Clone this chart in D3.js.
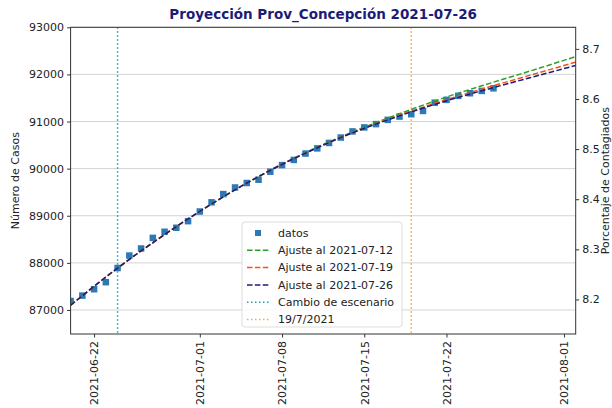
<!DOCTYPE html>
<html>
<head>
<meta charset="utf-8">
<script src="https://cdn.jsdelivr.net/npm/d3@7"></script>
<style>
    body { margin: 0; background: #fff; }
    text { font-family: "DejaVu Sans", sans-serif; fill: #222; }
</style>
</head>
<body>
<svg id="chart" width="612" height="408"></svg>
<script>
// Observed cases (daily)
const dataDates = [
    "2021-06-20", "2021-06-21", "2021-06-22", "2021-06-23", "2021-06-24", "2021-06-25",
    "2021-06-26", "2021-06-27", "2021-06-28", "2021-06-29", "2021-06-30", "2021-07-01",
    "2021-07-02", "2021-07-03", "2021-07-04", "2021-07-05", "2021-07-06", "2021-07-07",
    "2021-07-08", "2021-07-09", "2021-07-10", "2021-07-11", "2021-07-12", "2021-07-13",
    "2021-07-14", "2021-07-15", "2021-07-16", "2021-07-17", "2021-07-18", "2021-07-19",
    "2021-07-20", "2021-07-21", "2021-07-22", "2021-07-23", "2021-07-24", "2021-07-25",
    "2021-07-26"
]
const dataCases = [
    87190, 87305, 87440, 87590, 87890, 88155,
    88305, 88530, 88660, 88745, 88885, 89090,
    89285, 89460, 89600, 89695, 89765, 89935,
    90075, 90185, 90320, 90430, 90545, 90660,
    90790, 90875, 90945, 91035, 91105, 91155,
    91225, 91400, 91460, 91545, 91600, 91650,
    91705
]

// Fitted curves, read every 4 days
const fitDates = [
    "2021-06-20", "2021-06-24", "2021-06-28", "2021-07-02", "2021-07-06", "2021-07-10",
    "2021-07-14", "2021-07-18", "2021-07-22", "2021-07-26", "2021-07-30", "2021-08-02"
]
const fit0712 = [87100, 87890, 88600, 89250, 89835, 90340, 90780, 91165, 91520, 91835, 92140, 92380]
const fit0719 = [87100, 87890, 88600, 89250, 89830, 90330, 90765, 91135, 91465, 91760, 92045, 92260]
const fit0726 = [87100, 87890, 88600, 89250, 89830, 90330, 90760, 91120, 91440, 91720, 91990, 92190]

const fitNames = ["Ajuste al 2021-07-12", "Ajuste al 2021-07-19", "Ajuste al 2021-07-26"]
const fitColors = ["#2ca02c", "#f4511e", "#1c1c78"]

// Reference dates
const cambioDate = "2021-06-24"
const markDate = "2021-07-19"

// Ticks
const xTicks = ["2021-06-22", "2021-07-01", "2021-07-08", "2021-07-15", "2021-07-22", "2021-08-01"]
const yTicks = [87000, 88000, 89000, 90000, 91000, 92000, 93000]
const pctTicks = [8.2, 8.3, 8.4, 8.5, 8.6, 8.7]

// Province population used for the right axis
const population = 1063700

const parse = d3.timeParse("%Y-%m-%d")

const svg = d3.select("#chart")
const margin = { left: 70.6, right: 575.7, top: 27.3, bottom: 334 }

// Scales
const x = d3.scaleTime()
    .domain([parse("2021-06-20"), parse("2021-08-02")])
    .range([margin.left, margin.right])

const y = d3.scaleLinear()
    .domain([86490, 93000])
    .range([margin.bottom, margin.top])

const yPct = d3.scaleLinear()
    .domain(y.domain().map(v => v / population * 100))
    .range(y.range())

// Clip for the plotting area
svg.append("clipPath").attr("id", "plotClip")
    .append("rect")
    .attr("x", margin.left).attr("y", margin.top)
    .attr("width", margin.right - margin.left)
    .attr("height", margin.bottom - margin.top)

// Gridlines
svg.append("g")
    .selectAll("line")
    .data(yTicks)
    .enter()
    .append("line")
    .attr("x1", margin.left).attr("x2", margin.right)
    .attr("y1", d => y(d)).attr("y2", d => y(d))
    .attr("stroke", "#d3d3d3")
    .attr("stroke-width", 1)

const plotG = svg.append("g").attr("clip-path", "url(#plotClip)")

// Vertical reference lines
plotG.append("line")
    .attr("x1", x(parse(cambioDate))).attr("x2", x(parse(cambioDate)))
    .attr("y1", margin.top).attr("y2", margin.bottom)
    .attr("stroke", "#1b9fb0").attr("stroke-width", 1.5)
    .attr("stroke-dasharray", "1.5,2.5")

plotG.append("line")
    .attr("x1", x(parse(markDate))).attr("x2", x(parse(markDate)))
    .attr("y1", margin.top).attr("y2", margin.bottom)
    .attr("stroke", "#ffa340").attr("stroke-width", 1.5)
    .attr("stroke-dasharray", "1.5,2.5")

// Data points
plotG.append("g")
    .selectAll("rect")
    .data(dataDates.map((d, i) => ({ date: parse(d), value: dataCases[i] })))
    .enter()
    .append("rect")
    .attr("x", d => x(d.date) - 3.25)
    .attr("y", d => y(d.value) - 3.25)
    .attr("width", 6.5).attr("height", 6.5)
    .attr("fill", "#2a7ab8")

// Fitted lines
const lineGen = d3.line()
    .x(d => x(d.date))
    .y(d => y(d.value))
    .curve(d3.curveMonotoneX)

const fits = [fit0712, fit0719, fit0726]
fits.forEach((values, k) => {
    plotG.append("path")
        .datum(fitDates.map((d, i) => ({ date: parse(d), value: values[i] })))
        .attr("d", lineGen)
        .attr("fill", "none")
        .attr("stroke", fitColors[k])
        .attr("stroke-width", 1.5)
        .attr("stroke-dasharray", "5.5,2.4")
})

// Axes
const xAxis = svg.append("g")
    .attr("transform", `translate(0,${margin.bottom})`)
    .call(d3.axisBottom(x).tickValues(xTicks.map(parse)).tickFormat(d3.timeFormat("%Y-%m-%d")).tickSizeOuter(0).tickSize(3.5))
xAxis.selectAll("text")
    .attr("transform", "rotate(-90)")
    .attr("x", -7).attr("y", 0).attr("dy", "0.35em")
    .attr("text-anchor", "end")

svg.append("g")
    .attr("transform", `translate(${margin.left},0)`)
    .call(d3.axisLeft(y).tickValues(yTicks).tickFormat(d3.format("d")).tickSizeOuter(0).tickSize(3.5))

svg.append("g")
    .attr("transform", `translate(${margin.right},0)`)
    .call(d3.axisRight(yPct).tickValues(pctTicks).tickFormat(d3.format(".1f")).tickSizeOuter(0).tickSize(3.5))

svg.selectAll(".tick text").attr("font-size", 11).attr("font-family", "DejaVu Sans")
svg.selectAll(".domain").remove()
svg.selectAll(".tick line").attr("stroke", "#333")

// Frame
svg.append("rect")
    .attr("x", margin.left).attr("y", margin.top)
    .attr("width", margin.right - margin.left)
    .attr("height", margin.bottom - margin.top)
    .attr("fill", "none")
    .attr("stroke", "#333").attr("stroke-width", 1)

// Title and axis labels
svg.append("text")
    .attr("x", (margin.left + margin.right) / 2).attr("y", 19)
    .attr("text-anchor", "middle")
    .attr("font-size", 13.5).attr("font-weight", "bold")
    .style("fill", "#1c1c78")
    .text("Proyección Prov_Concepción 2021-07-26")

svg.append("text")
    .attr("transform", `translate(19,${(margin.top + margin.bottom) / 2}) rotate(-90)`)
    .attr("text-anchor", "middle")
    .attr("font-size", 11)
    .text("Número de Casos")

svg.append("text")
    .attr("transform", `translate(609,${(margin.top + margin.bottom) / 2}) rotate(-90)`)
    .attr("text-anchor", "middle")
    .attr("font-size", 11)
    .text("Porcentaje de Contagiados")

// Legend
const legend = svg.append("g").attr("transform", "translate(242,222)")
legend.append("rect")
    .attr("width", 160).attr("height", 105)
    .attr("rx", 3)
    .attr("fill", "#fff").attr("fill-opacity", 0.85)
    .attr("stroke", "#ddd")

const legendItems = [
    { label: "datos", kind: "square", color: "#2a7ab8" },
    { label: fitNames[0], kind: "dash", color: fitColors[0] },
    { label: fitNames[1], kind: "dash", color: fitColors[1] },
    { label: fitNames[2], kind: "dash", color: fitColors[2] },
    { label: "Cambio de escenario", kind: "dot", color: "#1b9fb0" },
    { label: "19/7/2021", kind: "dot", color: "#ffa340" }
]

const rows = legend.selectAll("g.row")
    .data(legendItems)
    .enter()
    .append("g")
    .attr("class", "row")
    .attr("transform", (d, i) => `translate(0,${11 + i * 17.3})`)

rows.filter(d => d.kind == "square")
    .append("rect")
    .attr("x", 13).attr("y", -3).attr("width", 6).attr("height", 6)
    .attr("fill", d => d.color)

rows.filter(d => d.kind != "square")
    .append("line")
    .attr("x1", 5).attr("x2", 27).attr("y1", 0).attr("y2", 0)
    .attr("stroke", d => d.color).attr("stroke-width", 1.5)
    .attr("stroke-dasharray", d => d.kind == "dash" ? "5.5,2.4" : "1.5,2.5")

rows.append("text")
    .attr("x", 36).attr("dy", "0.35em")
    .attr("font-size", 11)
    .text(d => d.label)
</script>
</body>
</html>
